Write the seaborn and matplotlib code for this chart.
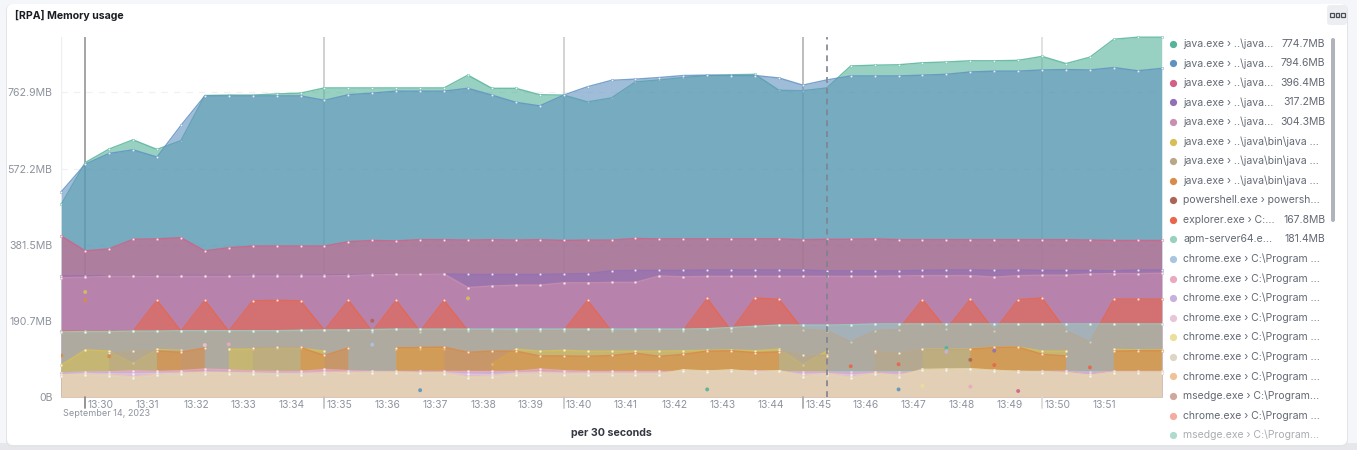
import numpy as np
import pandas as pd
import matplotlib
matplotlib.use("Agg")
import matplotlib.pyplot as plt
import seaborn as sns
from matplotlib.patches import FancyBboxPatch, Rectangle
from matplotlib.transforms import IdentityTransform

n = float("nan")

# memory values per 30 second bucket, MB
java_a = [483,587,621,644,620,642,755,756,756,759,761,774,774,774,774,774,774,806,773,773,757,756,739,749,789,794,800,805,807,808,768,767,774,829,831,832,837,839,842,842,843,853,835,851,896,901,901]
java_b = [514,583,610,619,601,680,754,754,754,754,754,743,757,761,766,766,766,773,756,738,729,756,777,793,796,800,805,806,805,805,799,781,794,804,804,804,806,808,814,816,816,819,820,819,825,817,823]
java_c = [403,366,371,395,396,399,366,374,378,378,378,378,389,392,391,394,394,393,394,393,394,392,393,393,397,396,396,396,396,396,396,394,395,395,396,394,394,394,394,394,394,394,394,393,392,392,392]
java_d = [303,303,303,303,304,304,304,304,305,305,305,305,306,307,307,307,308,307,307,307,307,308,309,316,317,317,317,318,318,318,318,318,316,316,316,316,317,318,318,317,318,317,317,317,316,318,318]
java_e = [299,300,302,302,302,302,302,302,303,303,303,303,304,306,307,307,308,274,278,280,280,286,286,287,287,303,301,302,302,302,302,302,302,302,302,303,304,304,304,300,304,305,305,308,309,309,310]
java_f = [80,118,115,84,119,117,n,120,120,122,122,115,n,n,120,121,121,n,83,120,115,117,115,115,115,115,116,117,118,116,120,81,115,n,115,n,120,120,121,124,125,115,115,n,119,118,118]
java_g = [n,n,109,115,116,115,n,n,123,125,125,n,n,n,n,n,n,n,n,n,n,n,n,n,n,n,n,n,n,n,117,105,104,n,113,110,119,119,120,n,n,n,n,n,n,n,n]
java_h = [n,n,n,n,115,112,123,n,123,n,124,104,123,n,123,124,125,112,115,115,103,103,102,104,110,102,107,115,116,111,113,n,103,n,115,n,n,n,120,124,125,107,103,n,115,116,116]
explorer = [165,165,165,165,242,165,242,165,241,242,241,167,242,164,242,164,242,166,166,165,166,166,242,165,166,166,166,247,166,248,245,169,166,138,166,169,244,170,245,166,244,248,166,138,245,245,245]
apm = [163,164,164,165,165,166,166,166,166,166,167,168,168,169,170,170,170,170,170,170,170,170,170,170,170,170,170,171,174,177,180,180,180,181,183,183,183,183,183,183,183,183,183,183,183,183,183]
chrome_a = [60,63,63,63,63,63,63,63,63,63,63,64,63,64,63,63,63,63,63,63,63,63,63,63,63,63,63,64,64,64,64,63,63,63,63,63,64,64,64,64,64,64,64,63,63,63,63]
chrome_b = [59,62,63,66,64,66,70,68,65,64,64,69,66,64,64,64,64,64,64,64,70,66,64,64,64,64,64,64,64,66,64,62,62,60,62,60,64,64,64,64,64,64,64,60,64,64,64]
chrome_c = [58,60,61,61,61,61,62,61,61,61,60,61,61,62,62,62,61,60,60,62,62,61,60,60,60,60,60,62,63,62,63,59,60,58,60,58,61,61,61,61,62,61,61,57,61,61,61]
chrome_d = [56,59,58,58,59,60,62,61,60,59,59,62,62,62,62,61,61,57,56,60,62,60,60,60,60,60,60,64,64,64,64,57,59,55,59,56,64,64,65,64,62,62,61,55,62,62,62]
chrome_e = [54,57,55,50,56,59,60,60,59,58,57,59,61,62,62,61,60,50,52,58,58,58,58,58,58,58,68,65,68,63,66,53,58,49,59,53,69,70,71,67,64,63,61,54,62,62,62]
chrome_f = [52,55,53,48,54,57,58,58,57,56,55,57,59,60,60,59,58,48,50,56,56,56,56,56,56,56,66,63,66,61,64,51,56,47,57,51,67,68,69,65,62,61,59,52,60,60,60]
chrome_g = [53,56,54,49,55,58,59,59,58,57,56,58,60,61,61,60,59,49,51,57,57,57,57,57,57,57,67,64,67,62,65,52,57,48,58,52,68,69,70,66,63,62,60,53,61,61,61]

# lone buckets of series that otherwise sit under the others
stray_slot = [0,1,1,2,6,7,13,13,15,17,27,33,35,35,36,37,37,38,38,39,39,40,43]
stray_mb = [104,263,242,102,130,132,191,131,17,247,19,77,82,19,28,123,113,93,26,116,80,15,74]
stray_colour = ["#DA8B45","#D6BF57","#DA8B45","#DA8B45","#E8C5D9","#EBA9BE","#AA6556","#A9C6E0","#6092C0","#D6BF57","#54B399","#E7664C","#E7664C","#6092C0","#EADF9B","#54B399","#C6B1DD","#AA6556","#EBA9BE","#9170B8","#E7664C","#D36086","#E7664C"]

y_tick_values = [0, 190.7, 381.5, 572.2, 762.9]
y_tick_labels = ["0B", "190.7MB", "381.5MB", "572.2MB", "762.9MB"]
minute_slots = [1,3,5,7,9,11,13,15,17,19,21,23,25,27,29,31,33,35,37,39,41,43,45]
minute_labels = ["13:30","13:31","13:32","13:33","13:34","13:35","13:36","13:37","13:38","13:39","13:40","13:41","13:42","13:43","13:44","13:45","13:46","13:47","13:48","13:49","13:50","13:51",""]
five_minute_slots = [1, 11, 21, 31, 41]
five_minute_colours = ["#8C8C8C", "#C4C4C4", "#C8C8C8", "#ABABAB", "#DADADA"]

legend_names = ["java.exe › ..\\java...","java.exe › ..\\java...","java.exe › ..\\java...","java.exe › ..\\java...","java.exe › ..\\java...",
    "java.exe › ..\\java\\bin\\java ...","java.exe › ..\\java\\bin\\java ...","java.exe › ..\\java\\bin\\java ...",
    "powershell.exe › powersh...","explorer.exe › C:...","apm-server64.e...",
    "chrome.exe › C:\\Program ...","chrome.exe › C:\\Program ...","chrome.exe › C:\\Program ...","chrome.exe › C:\\Program ...",
    "chrome.exe › C:\\Program ...","chrome.exe › C:\\Program ...","chrome.exe › C:\\Program ...",
    "msedge.exe › C:\\Program...","chrome.exe › C:\\Program ...","msedge.exe › C:\\Program..."]
legend_values = ["774.7MB","794.6MB","396.4MB","317.2MB","304.3MB","","","","","167.8MB","181.4MB","","","","","","","","","",""]
legend_colours = ["#54B399","#6092C0","#D36086","#9170B8","#CA8EAE","#D6BF57","#B9A888","#DA8B45","#AA6556","#E7664C","#98D1C0",
    "#A9C6E0","#EBA9BE","#C6B1DD","#E8C5D9","#EADF9B","#DDD6C4","#F0C298","#CFA79E","#F5AB9E","#6DBFA5"]

series = [
    ("java_a", java_a, "#54B399"), ("java_b", java_b, "#6092C0"), ("java_c", java_c, "#D36086"),
    ("java_d", java_d, "#9170B8"), ("java_e", java_e, "#CA8EAE"), ("explorer", explorer, "#E7664C"),
    ("apm", apm, "#98D1C0"), ("java_f", java_f, "#D6BF57"), ("java_g", java_g, "#B9A888"),
    ("java_h", java_h, "#DA8B45"), ("chrome_a", chrome_a, "#A9C6E0"), ("chrome_b", chrome_b, "#EBA9BE"),
    ("chrome_c", chrome_c, "#C6B1DD"), ("chrome_d", chrome_d, "#E8C5D9"), ("chrome_e", chrome_e, "#EADF9B"),
    ("chrome_g", chrome_g, "#F0C298"), ("chrome_f", chrome_f, "#DDD6C4"),
]

W, H = 1357, 450
sns.set_theme(style="white")
plt.rcParams["font.family"] = ["Inter", "DejaVu Sans"]
fig = plt.figure(figsize=(W / 100, H / 100), dpi=100, facecolor="#F5F6F9")

def box(x0, y0, x1, y1, colour, radius, z=0):
    fig.add_artist(FancyBboxPatch((x0 + radius, H - y1 + radius), x1 - x0 - 2 * radius, y1 - y0 - 2 * radius,
                                  boxstyle=f"round,pad={radius},rounding_size={radius}", transform=IdentityTransform(),
                                  fc=colour, ec="none", zorder=z))

def ftext(x, y, s, **kw):
    fig.text(x / W, 1 - y / H, s, **kw)

fig.add_artist(Rectangle((0, 0), W, 7, transform=IdentityTransform(), fc="#E6E7EB", ec="none", zorder=0))
box(6, 4, 1348, 447, "#E3E4E8", 7, z=0)
box(7, 4, 1347, 445, "#FFFFFF", 6, z=0)
box(1327, 5, 1347, 25, "#EDEEF1", 3, z=1)
for sx in (1332, 1337.5, 1343):
    fig.add_artist(Rectangle((sx - 2, H - 17), 3.6, 4, transform=IdentityTransform(), fc="none", ec="#4A4F5A", lw=0.9, zorder=2))

ax = fig.add_axes([61.3 / W, 1 - 397 / H, (1161.7 - 61.3) / W, 360 / H], facecolor="none")
ax.set_zorder(3)
slots = np.arange(47)

for s, c in zip(five_minute_slots, five_minute_colours):
    ax.axvline(s, color=c, lw=1.1, zorder=0.5)
for v in y_tick_values[1:]:
    ax.axhline(v, color="#F0F1F3", lw=0.9, ls=(0, (5, 5)), zorder=0.4)
ax.axvline(0, color="#EEEFF1", lw=1, zorder=0.4)

z = 1
for name, values, colour in series:
    y = np.array(values, dtype=float)
    ax.fill_between(slots, 0, y, color=colour, alpha=0.6, lw=0, zorder=z)
    frame = pd.DataFrame({"slot": slots, "mb": y})
    frame["segment"] = frame["mb"].isna().cumsum()
    frame = frame.dropna()
    sns.lineplot(data=frame, x="slot", y="mb", units="segment", estimator=None, color=colour, lw=1.0, alpha=0.85,
                 marker="o", markersize=1.9, markerfacecolor=(1, 1, 1, 0.4), markeredgecolor=colour,
                 markeredgewidth=0.35, legend=False, ax=ax, zorder=z + 0.5, clip_on=False)
    z += 1

stray = pd.DataFrame({"slot": stray_slot, "mb": stray_mb, "c": stray_colour})
sns.scatterplot(data=stray, x="slot", y="mb", c=stray["c"], s=8, linewidth=0, alpha=0.9, legend=False, ax=ax, zorder=z)
ax.axvline(32, color="#7E838E", lw=1.2, ls=(0, (3.5, 3)), zorder=z + 1)

ax.set_xlim(0, 46)
ax.set_ylim(0, 901.5)
sns.despine(ax=ax, left=True, bottom=True, top=True, right=True)
ax.set_xlabel("")
ax.set_ylabel("")
ax.set_yticks(y_tick_values, y_tick_labels)
ax.tick_params(axis="y", length=0, pad=6.3, labelsize=7.6, labelcolor="#8E939D")
ax.set_xticks(minute_slots, [""] * len(minute_slots))
ax.tick_params(axis="x", length=8, width=1, color="#E4E5E8", pad=0)
for s, c in zip(five_minute_slots, five_minute_colours):
    ax.plot([s, s], [0, -0.0305], color=c, lw=1.3, clip_on=False, transform=ax.get_xaxis_transform(), zorder=z)
for s, lab in zip(minute_slots, minute_labels):
    ax.annotate(lab, xy=(s, 0), xycoords=("data", "axes fraction"), xytext=(1.6, -5.8), textcoords="offset points",
                ha="left", va="center", fontsize=7.4, color="#8E939D")

ftext(63, 414, "September 14, 2023", fontsize=6.5, color="#8E939D", ha="left", va="center", zorder=5)
ftext(15, 15, "[RPA] Memory usage", fontsize=7.6, fontweight="bold", color="#1A1C21", ha="left", va="center", zorder=5)
ftext(611.5, 433, "per 30 seconds", fontsize=7.7, fontweight="bold", color="#343741", ha="center", va="center", zorder=5)

row_y = 43.7
for i, (nm, val, col) in enumerate(zip(legend_names, legend_values, legend_colours)):
    a = 0.55 if i == 20 else 1
    fig.add_artist(plt.Line2D([1172.5 / W], [1 - row_y / H], marker="o", ms=5.2, color=col, mew=0, alpha=a, transform=fig.transFigure, zorder=5))
    ftext(1183, row_y, nm, fontsize=7.5, color="#636873", ha="left", va="center", alpha=a, zorder=5)
    if val:
        ftext(1325.5, row_y, val, fontsize=7.5, color="#636873", ha="right", va="center", zorder=5)
    row_y += 19.57
box(1331, 38, 1335, 222, "#AEB3BD", 2, z=5)
fig.savefig("out.png", dpi=100, facecolor=fig.get_facecolor())
